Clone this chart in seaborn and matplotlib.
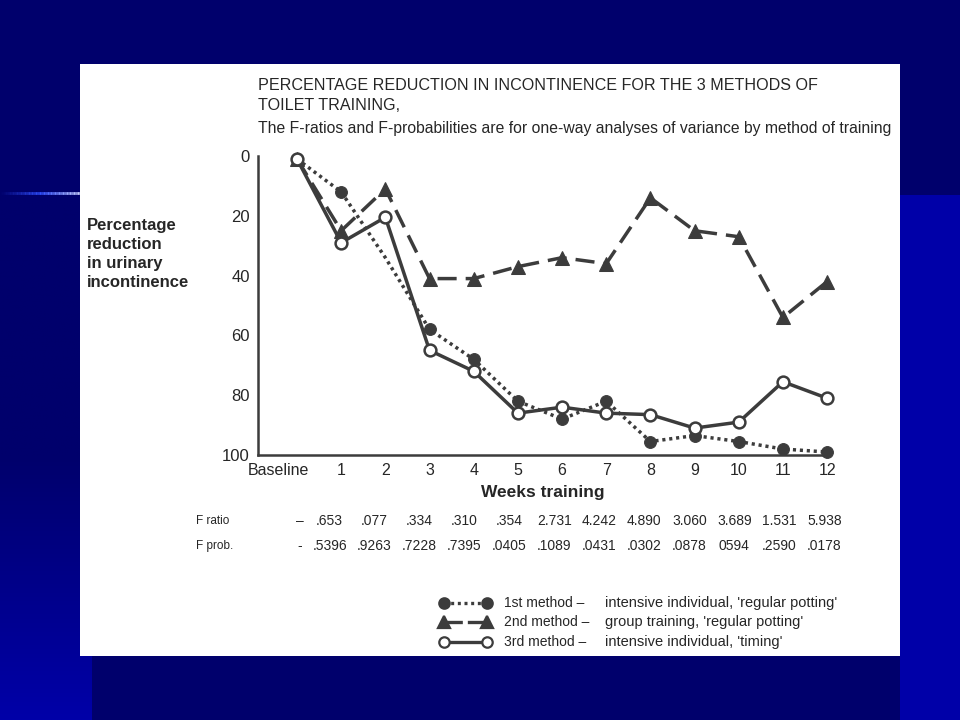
import matplotlib
matplotlib.use("Agg")
import numpy as np
import pandas as pd
import seaborn as sns
import matplotlib.pyplot as plt
import matplotlib.transforms as mtransforms
from matplotlib.lines import Line2D
from matplotlib.patches import Rectangle
from matplotlib.collections import LineCollection
from matplotlib.colors import LinearSegmentedColormap

# ---------------- data ----------------
weeks = list(range(13))
week_labels = ["Baseline", "1", "2", "3", "4", "5", "6", "7", "8", "9", "10", "11", "12"]
method1 = [1, 12, 34, 58, 68, 82, 88, 82, 95.5, 93.5, 95.5, 98, 99]
method2 = [1, 25, 11, 41, 41, 37, 34, 36, 14, 25, 27, 54, 42]
method3 = [1, 29, 20.5, 65, 72, 86, 84, 86, 86.5, 91, 89, 75.5, 81]
f_ratio = ["–", ".653", ".077", ".334", ".310", ".354", "2.731", "4.242", "4.890",
           "3.060", "3.689", "1.531", "5.938"]
f_prob = ["-", ".5396", ".9263", ".7228", ".7395", ".0405", ".1089", ".0431", ".0302",
          ".0878", "0594", ".2590", ".0178"]
legend_names = ["1st method –", "2nd method –", "3rd method –"]
legend_desc = ["intensive individual, 'regular potting'",
               "group training, 'regular potting'",
               "intensive individual, 'timing'"]
title_lines = ["PERCENTAGE REDUCTION IN INCONTINENCE FOR THE 3 METHODS OF",
               "TOILET TRAINING,"]
subtitle = "The F-ratios and F-probabilities are for one-way analyses of variance by method of training"
ylabel = "Percentage\nreduction\nin urinary\nincontinence"
xlabel = "Weeks training"

df = pd.DataFrame({"week": weeks, "m1": method1, "m2": method2, "m3": method3})

# ---------------- style ----------------
sns.set_style("white")
REG = ["Liberation Sans", "DejaVu Sans"]
plt.rcParams["font.family"] = REG

ink = "#3c3c3c"
txt = "#262626"
navy = "#00006c"
bright = "#0000a8"

fig = plt.figure(figsize=(9.6, 7.2), dpi=100, facecolor=navy)

# slide background pieces
fig.add_artist(Rectangle((900 / 960, 0), 60 / 960, 1 - 195 / 720,
                         transform=fig.transFigure, facecolor=bright, edgecolor="none", zorder=0))
gax = fig.add_axes([0, 0, 92 / 960, 1 - 195 / 720], zorder=0)
grad = np.linspace(0, 1, 256).reshape(-1, 1)
cmap_bg = LinearSegmentedColormap.from_list("bg", [navy, navy, bright])
gax.imshow(grad, aspect="auto", cmap=cmap_bg, extent=[0, 1, 0, 1])
gax.axis("off")
xs = np.linspace(0, 80 / 960, 60)
segs = [[(xs[i], 1 - 193 / 720), (xs[i + 1], 1 - 193 / 720)] for i in range(len(xs) - 1)]
cl = LinearSegmentedColormap.from_list("hl", [navy, "#3050ff", "#c8d0ff"])
lc = LineCollection(segs, colors=[cl(i / (len(segs) - 1)) for i in range(len(segs))],
                    linewidths=2, transform=fig.transFigure, zorder=1, capstyle="butt")
fig.add_artist(lc)

# white panel
fig.add_artist(Rectangle((80 / 960, 1 - 656 / 720), 820 / 960, 592 / 720,
                         transform=fig.transFigure, facecolor="white", edgecolor="none", zorder=1))

# ---------------- chart axes ----------------
ax = fig.add_axes([258 / 960, 1 - 455 / 720, (828 - 258) / 960, (455 - 156) / 720], zorder=3)
ax.set_facecolor("none")

sns.lineplot(data=df, x="week", y="m1", ax=ax, color=ink, lw=2.5,
             linestyle=(0, (0.9, 1.1)), marker="o", markersize=8.5,
             mfc=ink, mec=ink, markevery=[i for i in range(13) if i != 2], clip_on=False)
sns.lineplot(data=df, x="week", y="m2", ax=ax, color=ink, lw=2.5,
             linestyle=(0, (5.5, 2.6)), marker="^", markersize=9.5,
             mfc=ink, mec=ink, clip_on=False)
sns.lineplot(data=df, x="week", y="m3", ax=ax, color=ink, lw=2.5,
             linestyle="-", marker="o", markersize=8.5,
             mfc="white", mec=ink, mew=1.8, clip_on=False)

ax.set_xlim(-0.883, 12.02)
ax.set_ylim(100, 0)
ax.set_yticks([0, 20, 40, 60, 80, 100])
ax.set_yticklabels(["0", "20", "40", "60", "80", "100"])
ax.set_xticks(weeks)
ax.set_xticklabels(week_labels)
ax.set_xlabel("")
ax.set_ylabel("")
for s in ["top", "right"]:
    ax.spines[s].set_visible(False)
for s in ["left", "bottom"]:
    ax.spines[s].set_color(ink)
    ax.spines[s].set_linewidth(1.8)
ax.tick_params(axis="y", direction="in", length=9, width=1.6, color=ink,
               labelsize=12, labelcolor=txt, pad=6)
ax.tick_params(axis="x", direction="in", length=8, width=1.6, color=ink,
               labelsize=11.5, labelcolor=txt, pad=6)
lbl0 = ax.get_xticklabels()[0]
lbl0.set_transform(lbl0.get_transform() + mtransforms.ScaledTranslation(-0.19, 0, fig.dpi_scale_trans))

fig.text(543 / 960, 1 - 492 / 720, xlabel, ha="center", va="center", fontsize=12.5,
         fontweight="bold", color=txt, zorder=4)
fig.text(87 / 960, 1 - 254 / 720, ylabel, ha="left", va="center", fontsize=12,
         fontweight="bold", color=txt, linespacing=1.36, zorder=4)

# titles
fig.text(258 / 960, 1 - 86 / 720, title_lines[0], ha="left", va="center", fontsize=11.6,
         color=txt, zorder=4)
fig.text(258 / 960, 1 - 106 / 720, title_lines[1], ha="left", va="center", fontsize=11.6,
         color=txt, zorder=4)
fig.text(258 / 960, 1 - 129 / 720, subtitle, ha="left", va="center", fontsize=11.3,
         color=txt, zorder=4)

# F table
blend = mtransforms.blended_transform_factory(ax.transData, fig.transFigure)
table_x = [0.07] + [w - 0.28 + 0.018 * w for w in weeks[1:]]
for xv, r, p in zip(table_x, f_ratio, f_prob):
    ax.text(xv, 1 - 521 / 720, r, transform=blend, ha="center", va="center",
            fontsize=10, color=txt, clip_on=False)
    ax.text(xv, 1 - 546 / 720, p, transform=blend, ha="center", va="center",
            fontsize=10, color=txt, clip_on=False)
fig.text(196 / 960, 1 - 521 / 720, "F ratio", ha="left", va="center", fontsize=8.5,
         color=txt, zorder=4)
fig.text(196 / 960, 1 - 546 / 720, "F prob.", ha="left", va="center", fontsize=8.5,
         color=txt, zorder=4)

# legend (drawn manually)
leg_y = [603, 622, 642]
styles = [dict(ls=(0, (0.9, 1.1)), marker="o", mfc=ink, ms=7.5),
          dict(ls=(0, (5.5, 1.5)), marker="^", mfc=ink, ms=8.5),
          dict(ls="-", marker="o", mfc="white", ms=7.5)]
for yy, st, nm, ds in zip(leg_y, styles, legend_names, legend_desc):
    yf = 1 - yy / 720
    fig.add_artist(Line2D([444 / 960, 487 / 960], [yf, yf], transform=fig.transFigure,
                          color=ink, lw=2.4, linestyle=st["ls"], marker=st["marker"],
                          markersize=st["ms"], mfc=st["mfc"], mec=ink, mew=1.6, zorder=5))
    fig.text(504 / 960, yf, nm, ha="left", va="center", fontsize=10, color=txt, zorder=5)
    fig.text(605 / 960, yf, ds, ha="left", va="center", fontsize=10.5, color=txt, zorder=5)

fig.savefig("out.png", dpi=100, facecolor=fig.get_facecolor())
